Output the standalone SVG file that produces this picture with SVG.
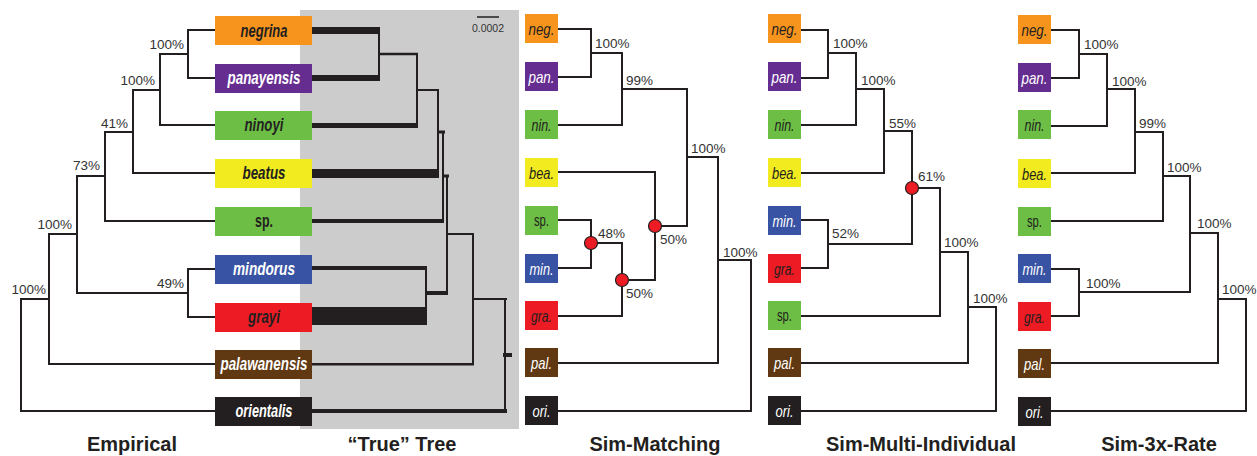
<svg xmlns="http://www.w3.org/2000/svg" width="1257" height="456" viewBox="0 0 1257 456">
<style>
.br{stroke:#231f20;stroke-width:2;fill:none;stroke-linejoin:miter;stroke-linecap:square}
.tb{fill:#231f20}
.tl{stroke:#231f20;fill:none}
.lbl{font-family:"Liberation Sans",Arial,sans-serif;font-size:13.5px;fill:#333}
.end{text-anchor:end}
.ttl{font-family:"Liberation Sans",Arial,sans-serif;font-weight:bold;font-size:20px;fill:#231f20;text-anchor:middle}
.tx{font-family:"Liberation Sans",Arial,sans-serif;font-size:16.5px;text-anchor:middle}
.e{font-weight:bold;font-style:italic;font-size:18px}
.s{font-style:italic}
.w{fill:#fff}.k{fill:#231f20}
.or{fill:#f7941d}.pu{fill:#662d91}.gr{fill:#6cbe45}.ye{fill:#f2eb1f}.bl{fill:#3953a4}.re{fill:#ed1c24}.bn{fill:#603913}.bk{fill:#231f20}
.rc{fill:#ed1c24;stroke:#231f20;stroke-width:1.2}
</style>
<rect x="300" y="10" width="219" height="419" fill="#cccccc"/>

<!-- True tree -->
<g id="true-tree">
<rect class="tb" x="312" y="27" width="68" height="7"/>
<rect class="tb" x="312" y="75" width="68" height="6"/>
<rect class="tb" x="312" y="123" width="106" height="5"/>
<rect class="tb" x="312" y="169" width="127" height="9"/>
<rect class="tb" x="312" y="219" width="132" height="4"/>
<rect class="tb" x="312" y="266" width="115" height="4"/>
<rect class="tb" x="312" y="307" width="115" height="18"/>
<rect class="tb" x="312" y="363" width="162" height="2.5"/>
<rect class="tb" x="312" y="409" width="195" height="4"/>
<path class="tl" stroke-width="2" d="M379,30V78"/>
<path class="tl" stroke-width="2.5" d="M378,54H418"/>
<path class="tl" stroke-width="2" d="M417,54V125"/>
<path class="tl" stroke-width="2" d="M416,90H439"/>
<path class="tl" stroke-width="2" d="M438,90V173"/>
<path class="tl" stroke-width="3" d="M437,132H445"/>
<path class="tl" stroke-width="2" d="M443,132V221"/>
<path class="tl" stroke-width="3" d="M442,176H449"/>
<path class="tl" stroke-width="2" d="M447,176V293"/>
<path class="tl" stroke-width="2" d="M426,268V316"/>
<path class="tl" stroke-width="4" d="M425,293H448"/>
<path class="tl" stroke-width="2" d="M446,234H474"/>
<path class="tl" stroke-width="2" d="M473,234V364"/>
<path class="tl" stroke-width="2" d="M472,299H507"/>
<path class="tl" stroke-width="2" d="M505,299V413"/>
<path class="tl" stroke-width="4" d="M503,355H512"/>
<path class="tl" stroke-width="1.5" d="M477,17H499"/>
<text class="lbl" x="488" y="32" text-anchor="middle" style="font-size:10.5px">0.0002</text>
</g>

<!-- Connectors -->
<g id="connectors">
<path class="br" d="M215,30H188V78H215"/>
<path class="br" d="M188,54H160V125H215"/>
<path class="br" d="M160,90H133V173H215"/>
<path class="br" d="M133,132H105V221H215"/>
<path class="br" d="M215,269H188V317H215"/>
<path class="br" d="M105,176H77V293H188"/>
<path class="br" d="M77,234H49V364H215"/>
<path class="br" d="M49,299H21V411H215"/>

<path class="br" d="M558,29H591V77H558"/>
<path class="br" d="M591,53H622V125H558"/>
<path class="br" d="M622,89H687V226H655"/>
<path class="br" d="M558,172H655V280H622"/>
<path class="br" d="M558,220H591V268H558"/>
<path class="br" d="M591,243H622V316H558"/>
<path class="br" d="M687,157H718V363H558"/>
<path class="br" d="M718,260H751V411H558"/>

<path class="br" d="M801,30H828V78H801"/>
<path class="br" d="M828,53H856V125H801"/>
<path class="br" d="M856,89H884V173H801"/>
<path class="br" d="M884,131H912V244H828"/>
<path class="br" d="M801,220H828V268H801"/>
<path class="br" d="M912,188H940V316H801"/>
<path class="br" d="M940,252H968V363H801"/>
<path class="br" d="M968,307H996V411H801"/>

<path class="br" d="M1051,30H1079V78H1051"/>
<path class="br" d="M1079,54H1107V126H1051"/>
<path class="br" d="M1107,89H1135V173H1051"/>
<path class="br" d="M1135,132H1163V221H1051"/>
<path class="br" d="M1051,269H1079V316H1051"/>
<path class="br" d="M1163,176H1190V292H1079"/>
<path class="br" d="M1190,233H1218V363H1051"/>
<path class="br" d="M1218,299H1246V411H1051"/>

<circle class="rc" cx="655" cy="226" r="6.5"/>
<circle class="rc" cx="591" cy="243" r="6.5"/>
<circle class="rc" cx="622" cy="280" r="6.5"/>
<circle class="rc" cx="912" cy="188" r="6.5"/>
</g>

<!-- Support labels -->
<g id="support">
<text class="lbl end" x="184" y="49">100%</text>
<text class="lbl end" x="155" y="85">100%</text>
<text class="lbl end" x="128" y="128">41%</text>
<text class="lbl end" x="100" y="170">73%</text>
<text class="lbl end" x="184" y="288">49%</text>
<text class="lbl end" x="72" y="229">100%</text>
<text class="lbl end" x="46" y="294">100%</text>

<text class="lbl" x="595" y="48">100%</text>
<text class="lbl" x="626" y="85">99%</text>
<text class="lbl" x="691" y="153">100%</text>
<text class="lbl" x="598" y="238">48%</text>
<text class="lbl" x="660" y="244">50%</text>
<text class="lbl" x="626" y="298">50%</text>
<text class="lbl" x="723" y="257">100%</text>

<text class="lbl" x="833" y="48">100%</text>
<text class="lbl" x="861" y="85">100%</text>
<text class="lbl" x="889" y="128">55%</text>
<text class="lbl" x="918" y="181">61%</text>
<text class="lbl" x="832" y="238">52%</text>
<text class="lbl" x="944" y="247">100%</text>
<text class="lbl" x="973" y="303">100%</text>

<text class="lbl" x="1084" y="49">100%</text>
<text class="lbl" x="1112" y="86">100%</text>
<text class="lbl" x="1139" y="128">99%</text>
<text class="lbl" x="1167" y="172">100%</text>
<text class="lbl" x="1086" y="288">100%</text>
<text class="lbl" x="1197" y="228">100%</text>
<text class="lbl" x="1222" y="294">100%</text>
</g>

<!-- Empirical nodes -->
<g id="emp-negrina"><rect class="or" x="215" y="16" width="97" height="29"/><text class="tx e k" x="264" y="36.5" textLength="47" lengthAdjust="spacingAndGlyphs">negrina</text></g>
<g id="emp-panayensis"><rect class="pu" x="215" y="64" width="97" height="29"/><text class="tx e w" x="264" y="84" textLength="73" lengthAdjust="spacingAndGlyphs">panayensis</text></g>
<g id="emp-ninoyi"><rect class="gr" x="215" y="111" width="97" height="29"/><text class="tx e k" x="264" y="131" textLength="39" lengthAdjust="spacingAndGlyphs">ninoyi</text></g>
<g id="emp-beatus"><rect class="ye" x="215" y="159" width="97" height="29"/><text class="tx e k" x="264" y="179" textLength="43" lengthAdjust="spacingAndGlyphs">beatus</text></g>
<g id="emp-sp"><rect class="gr" x="215" y="207" width="97" height="29"/><text class="tx k" x="264" y="227" style="font-weight:bold;font-size:18px" textLength="18" lengthAdjust="spacingAndGlyphs">sp.</text></g>
<g id="emp-mindorus"><rect class="bl" x="215" y="255" width="97" height="29"/><text class="tx e w" x="264" y="275" textLength="62" lengthAdjust="spacingAndGlyphs">mindorus</text></g>
<g id="emp-grayi"><rect class="re" x="215" y="303" width="97" height="29"/><text class="tx e k" x="264" y="323" textLength="32" lengthAdjust="spacingAndGlyphs">grayi</text></g>
<g id="emp-palawanensis"><rect class="bn" x="215" y="350" width="97" height="29"/><text class="tx e w" x="264" y="370" textLength="87" lengthAdjust="spacingAndGlyphs">palawanensis</text></g>
<g id="emp-orientalis"><rect class="bk" x="215" y="397" width="97" height="29"/><text class="tx e w" x="264" y="417" textLength="57" lengthAdjust="spacingAndGlyphs">orientalis</text></g>

<!-- Sim-Matching nodes -->
<g id="sm-neg"><rect class="or" x="525" y="14" width="33" height="29"/><text class="tx s k" x="541.5" y="34.5" textLength="26" lengthAdjust="spacingAndGlyphs">neg.</text></g>
<g id="sm-pan"><rect class="pu" x="525" y="62" width="33" height="29"/><text class="tx s w" x="541.5" y="82.5" textLength="26" lengthAdjust="spacingAndGlyphs">pan.</text></g>
<g id="sm-nin"><rect class="gr" x="525" y="110" width="33" height="29"/><text class="tx s k" x="541.5" y="130.5" textLength="20" lengthAdjust="spacingAndGlyphs">nin.</text></g>
<g id="sm-bea"><rect class="ye" x="525" y="158" width="33" height="29"/><text class="tx s k" x="541.5" y="178.5" textLength="25" lengthAdjust="spacingAndGlyphs">bea.</text></g>
<g id="sm-sp"><rect class="gr" x="525" y="206" width="33" height="29"/><text class="tx k" x="541.5" y="226" textLength="15" lengthAdjust="spacingAndGlyphs">sp.</text></g>
<g id="sm-min"><rect class="bl" x="525" y="254" width="33" height="29"/><text class="tx s w" x="541.5" y="274.5" textLength="24" lengthAdjust="spacingAndGlyphs">min.</text></g>
<g id="sm-gra"><rect class="re" x="525" y="301" width="33" height="29"/><text class="tx s k" x="541.5" y="321.5" textLength="21" lengthAdjust="spacingAndGlyphs">gra.</text></g>
<g id="sm-pal"><rect class="bn" x="525" y="348" width="33" height="29"/><text class="tx s w" x="541.5" y="368.5" textLength="21" lengthAdjust="spacingAndGlyphs">pal.</text></g>
<g id="sm-ori"><rect class="bk" x="525" y="396" width="33" height="29"/><text class="tx s w" x="541.5" y="416.5" textLength="18" lengthAdjust="spacingAndGlyphs">ori.</text></g>

<!-- Sim-Multi-Individual nodes -->
<g id="mi-neg"><rect class="or" x="768" y="14" width="33" height="29"/><text class="tx s k" x="784.5" y="34.5" textLength="26" lengthAdjust="spacingAndGlyphs">neg.</text></g>
<g id="mi-pan"><rect class="pu" x="768" y="62" width="33" height="29"/><text class="tx s w" x="784.5" y="82.5" textLength="26" lengthAdjust="spacingAndGlyphs">pan.</text></g>
<g id="mi-nin"><rect class="gr" x="768" y="110" width="33" height="29"/><text class="tx s k" x="784.5" y="130.5" textLength="20" lengthAdjust="spacingAndGlyphs">nin.</text></g>
<g id="mi-bea"><rect class="ye" x="768" y="158" width="33" height="29"/><text class="tx s k" x="784.5" y="178.5" textLength="25" lengthAdjust="spacingAndGlyphs">bea.</text></g>
<g id="mi-min"><rect class="bl" x="768" y="206" width="33" height="29"/><text class="tx s w" x="784.5" y="226.5" textLength="24" lengthAdjust="spacingAndGlyphs">min.</text></g>
<g id="mi-gra"><rect class="re" x="768" y="254" width="33" height="29"/><text class="tx s k" x="784.5" y="274.5" textLength="21" lengthAdjust="spacingAndGlyphs">gra.</text></g>
<g id="mi-sp"><rect class="gr" x="768" y="301" width="33" height="29"/><text class="tx k" x="784.5" y="321" textLength="15" lengthAdjust="spacingAndGlyphs">sp.</text></g>
<g id="mi-pal"><rect class="bn" x="768" y="348" width="33" height="29"/><text class="tx s w" x="784.5" y="368.5" textLength="21" lengthAdjust="spacingAndGlyphs">pal.</text></g>
<g id="mi-ori"><rect class="bk" x="768" y="396" width="33" height="29"/><text class="tx s w" x="784.5" y="416.5" textLength="18" lengthAdjust="spacingAndGlyphs">ori.</text></g>

<!-- Sim-3x-Rate nodes -->
<g id="r3-neg"><rect class="or" x="1018" y="15" width="33" height="29"/><text class="tx s k" x="1034.5" y="35.5" textLength="26" lengthAdjust="spacingAndGlyphs">neg.</text></g>
<g id="r3-pan"><rect class="pu" x="1018" y="63" width="33" height="29"/><text class="tx s w" x="1034.5" y="83.5" textLength="26" lengthAdjust="spacingAndGlyphs">pan.</text></g>
<g id="r3-nin"><rect class="gr" x="1018" y="110" width="33" height="29"/><text class="tx s k" x="1034.5" y="130.5" textLength="20" lengthAdjust="spacingAndGlyphs">nin.</text></g>
<g id="r3-bea"><rect class="ye" x="1018" y="159" width="33" height="29"/><text class="tx s k" x="1034.5" y="179.5" textLength="25" lengthAdjust="spacingAndGlyphs">bea.</text></g>
<g id="r3-sp"><rect class="gr" x="1018" y="207" width="33" height="29"/><text class="tx k" x="1034.5" y="227" textLength="15" lengthAdjust="spacingAndGlyphs">sp.</text></g>
<g id="r3-min"><rect class="bl" x="1018" y="254" width="33" height="29"/><text class="tx s w" x="1034.5" y="274.5" textLength="24" lengthAdjust="spacingAndGlyphs">min.</text></g>
<g id="r3-gra"><rect class="re" x="1018" y="302" width="33" height="29"/><text class="tx s k" x="1034.5" y="322.5" textLength="21" lengthAdjust="spacingAndGlyphs">gra.</text></g>
<g id="r3-pal"><rect class="bn" x="1018" y="349" width="33" height="29"/><text class="tx s w" x="1034.5" y="369.5" textLength="21" lengthAdjust="spacingAndGlyphs">pal.</text></g>
<g id="r3-ori"><rect class="bk" x="1018" y="397" width="33" height="29"/><text class="tx s w" x="1034.5" y="417.5" textLength="18" lengthAdjust="spacingAndGlyphs">ori.</text></g>

<!-- Titles -->
<g id="titles">
<text class="ttl" x="132" y="451">Empirical</text>
<text class="ttl" x="402" y="451">“True” Tree</text>
<text class="ttl" x="655" y="451">Sim-Matching</text>
<text class="ttl" x="921" y="451">Sim-Multi-Individual</text>
<text class="ttl" x="1159" y="451">Sim-3x-Rate</text>
</g>
</svg>
